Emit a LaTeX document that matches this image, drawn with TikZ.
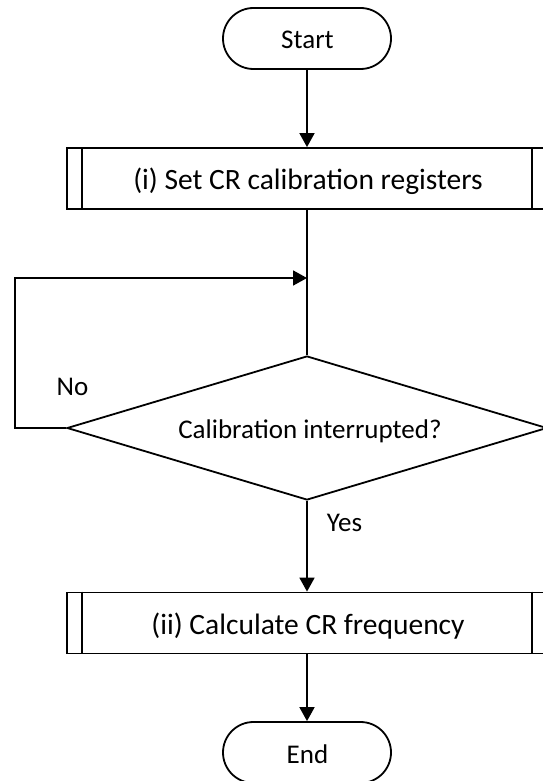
\documentclass[tikz,border=0pt]{standalone}
\usepackage{fontspec}
\setmainfont{Carlito}
\usetikzlibrary{shapes.geometric,arrows.meta}

\tikzset{
  flowline/.style={line width=1.8pt, draw=black},
  flowarrow/.style={flowline, -{Triangle[length=14pt,width=15pt]}},
  terminal/.style={flowline, rectangle, rounded corners=30.5pt,
    minimum width=168pt, minimum height=61pt, inner sep=0pt},
  process/.style={flowline, rectangle, minimum width=480pt,
    minimum height=61pt, inner sep=0pt},
  decision/.style={flowline, diamond, minimum width=480pt,
    minimum height=144pt, inner sep=0pt},
  txt/.style={font=\fontsize{27}{32}\selectfont, inner sep=0pt, anchor=base},
  bigtxt/.style={font=\fontsize{29.5}{35}\selectfont, inner sep=0pt, anchor=base}
}

\begin{document}
\begin{tikzpicture}[x=1pt, y=-1pt]
  \useasboundingbox (0,0) rectangle (542,781);

  % terminals
  \node[terminal] (start) at (307,38.5) {};
  \node[txt] (starttext) at (307.5,49) {Start};
  \node[terminal] (stop) at (307,752.5) {};
  \node[txt] (stoptext) at (307.5,763) {End};

  % predefined-process boxes with inner side bars
  \node[process] (set) at (307,178.5) {};
  \draw[flowline] ([xshift=16pt]set.north west) -- ([xshift=16pt]set.south west);
  \draw[flowline] ([xshift=-16pt]set.north east) -- ([xshift=-16pt]set.south east);
  \node[bigtxt] (settext) at (308,189.5) {(i) Set CR calibration registers};

  \node[process] (calc) at (307,623) {};
  \draw[flowline] ([xshift=16pt]calc.north west) -- ([xshift=16pt]calc.south west);
  \draw[flowline] ([xshift=-16pt]calc.north east) -- ([xshift=-16pt]calc.south east);
  \node[bigtxt] (calctext) at (308,634) {(ii) Calculate CR frequency};

  % decision
  \node[decision] (dec) at (307,428) {};
  \node[txt] (dectext) at (310,438.5) {Calibration interrupted?};

  % loop-back path
  \coordinate (join) at (307,278);
  \coordinate (leftturn) at (15,428);

  % connectors
  \draw[flowarrow] (start.south) -- (set.north);
  \draw[flowline] (set.south) -- (dec.north);
  \draw[flowarrow] (dec.west) -- (leftturn) |- (join);
  \draw[flowarrow] (dec.south) -- (calc.north);
  \draw[flowarrow] (calc.south) -- (stop.north);

  % branch labels
  \node[txt] (nolabel) at (72.5,395) {No};
  \node[txt] (yeslabel) at (344.5,531.5) {Yes};
\end{tikzpicture}
\end{document}
